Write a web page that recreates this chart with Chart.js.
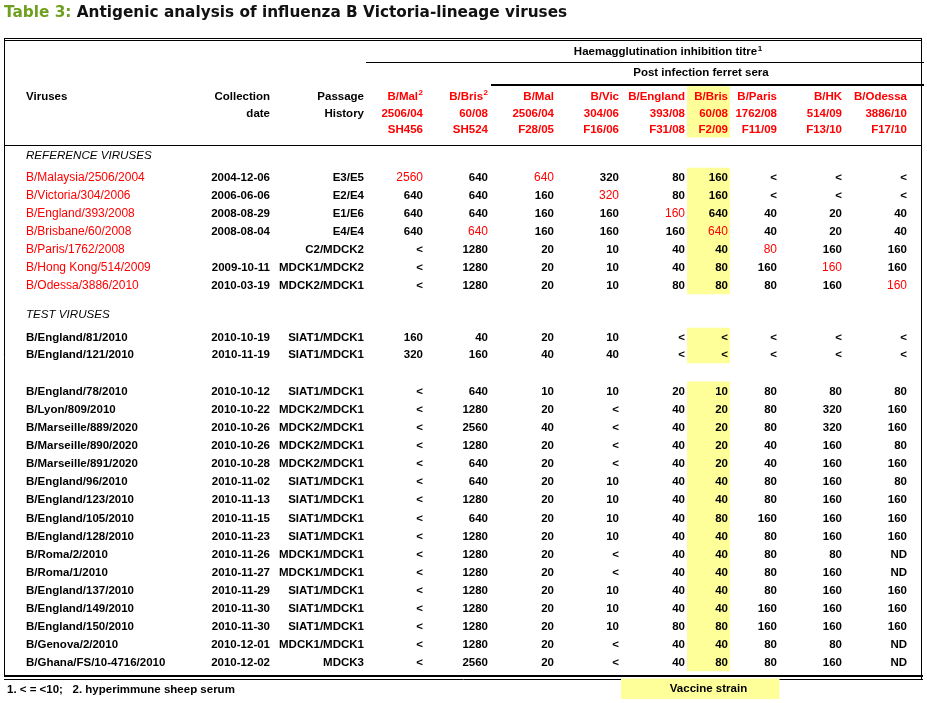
<!DOCTYPE html>
<html>
<head>
<meta charset="utf-8">
<script src="https://cdn.jsdelivr.net/npm/chart.js@4.4.1/dist/chart.umd.min.js"></script>
<style>
  html, body { margin: 0; padding: 0; background: #fff; }
  #wrap { width: 927px; height: 703px; position: relative; }
</style>
</head>
<body>
<div id="wrap"><canvas id="table"></canvas></div>
<script>
// ---- data ----
const referenceViruses = ['B/Malaysia/2506/2004', 'B/Victoria/304/2006', 'B/England/393/2008',
  'B/Brisbane/60/2008', 'B/Paris/1762/2008', 'B/Hong Kong/514/2009', 'B/Odessa/3886/2010'];
const testVirusesEarly = ['B/England/81/2010', 'B/England/121/2010'];
const testVirusesLate = ['B/England/78/2010', 'B/Lyon/809/2010', 'B/Marseille/889/2020', 'B/Marseille/890/2020',
  'B/Marseille/891/2020', 'B/England/96/2010', 'B/England/123/2010', 'B/England/105/2010',
  'B/England/128/2010', 'B/Roma/2/2010', 'B/Roma/1/2010', 'B/England/137/2010',
  'B/England/149/2010', 'B/England/150/2010', 'B/Genova/2/2010', 'B/Ghana/FS/10-4716/2010'];

const collectionDates = ['2004-12-06', '2006-06-06', '2008-08-29', '2008-08-04', '', '2009-10-11', '2010-03-19',
  '2010-10-19', '2010-11-19',
  '2010-10-12', '2010-10-22', '2010-10-26', '2010-10-26', '2010-10-28', '2010-11-02', '2010-11-13', '2010-11-15',
  '2010-11-23', '2010-11-26', '2010-11-27', '2010-11-29', '2010-11-30', '2010-11-30', '2010-12-01', '2010-12-02'];
const passageHistory = ['E3/E5', 'E2/E4', 'E1/E6', 'E4/E4', 'C2/MDCK2', 'MDCK1/MDCK2', 'MDCK2/MDCK1',
  'SIAT1/MDCK1', 'SIAT1/MDCK1',
  'SIAT1/MDCK1', 'MDCK2/MDCK1', 'MDCK2/MDCK1', 'MDCK2/MDCK1', 'MDCK2/MDCK1', 'SIAT1/MDCK1', 'SIAT1/MDCK1',
  'SIAT1/MDCK1', 'SIAT1/MDCK1', 'MDCK1/MDCK1', 'MDCK1/MDCK1', 'SIAT1/MDCK1', 'SIAT1/MDCK1', 'SIAT1/MDCK1',
  'MDCK1/MDCK1', 'MDCK3'];

// antisera (columns)
const serumStrain = ['B/Mal', 'B/Bris', 'B/Mal', 'B/Vic', 'B/England', 'B/Bris', 'B/Paris', 'B/HK', 'B/Odessa'];
const serumIsolate = ['2506/04', '60/08', '2506/04', '304/06', '393/08', '60/08', '1762/08', '514/09', '3886/10'];
const serumCode = ['SH456', 'SH524', 'F28/05', 'F16/06', 'F31/08', 'F2/09', 'F11/09', 'F13/10', 'F17/10'];
const serumNote = ['2', '2', '', '', '', '', '', '', ''];

// HI titres, one list per antiserum, rows in table order
const titreMal2 = [2560, 640, 640, 640, '<', '<', '<', 160, 320,
  '<', '<', '<', '<', '<', '<', '<', '<', '<', '<', '<', '<', '<', '<', '<', '<'];
const titreBris2 = [640, 640, 640, 640, 1280, 1280, 1280, 40, 160,
  640, 1280, 2560, 1280, 640, 640, 1280, 640, 1280, 1280, 1280, 1280, 1280, 1280, 1280, 2560];
const titreMal = [640, 160, 160, 160, 20, 20, 20, 20, 40,
  10, 20, 40, 20, 20, 20, 20, 20, 20, 20, 20, 20, 20, 20, 20, 20];
const titreVic = [320, 320, 160, 160, 10, 10, 10, 10, 40,
  10, '<', '<', '<', '<', 10, 10, 10, 10, '<', '<', 10, 10, 10, '<', '<'];
const titreEngland = [80, 80, 160, 160, 40, 40, 80, '<', '<',
  20, 40, 40, 40, 40, 40, 40, 40, 40, 40, 40, 40, 40, 80, 40, 40];
const titreBris = [160, 160, 640, 640, 40, 80, 80, '<', '<',
  10, 20, 20, 20, 20, 40, 40, 80, 40, 40, 40, 40, 40, 80, 40, 80];
const titreParis = ['<', '<', 40, 40, 80, 160, 80, '<', '<',
  80, 80, 80, 40, 40, 80, 80, 160, 80, 80, 80, 80, 160, 160, 80, 80];
const titreHK = ['<', '<', 20, 20, 160, 160, 160, '<', '<',
  80, 320, 320, 160, 160, 160, 160, 160, 160, 80, 160, 160, 160, 160, 80, 160];
const titreOdessa = ['<', '<', 40, 40, 160, 160, 160, '<', '<',
  80, 160, 160, 80, 160, 80, 160, 160, 160, 'ND', 'ND', 160, 160, 160, 'ND', 'ND'];
const titres = [titreMal2, titreBris2, titreMal, titreVic, titreEngland, titreBris, titreParis, titreHK, titreOdessa];

// homologous titre for each reference virus (shown in red)
const homologous = [[0, 2], [3], [4], [1, 5], [6], [7], [8]];

// ---- layout ----
const RED = '#ff0000';
const YELLOW = '#ffff99';
const SANS = '"Liberation Sans", Arial, sans-serif';
const BOLD = 'bold 11.5px ' + SANS;
const REG = '12px ' + SANS;

const nameLeft = 26;
const dateRight = 270;
const passageRight = 364;
const serumRight = [423, 488, 554, 619, 685, 728, 777, 842, 907];
const band = { left: 687, right: 730 };

// row slots (1 slot = one body row)
const virusNames = referenceViruses.concat(testVirusesEarly, testVirusesLate);
const slots = referenceViruses.map((_, i) => i)
  .concat(testVirusesEarly.map((_, i) => 8.84 + 0.97 * i))
  .concat(testVirusesLate.map((_, i) => 11.82 + i));
const headSlots = [-4.49, -3.55, -2.67];
const Y_MIN = -9.762, Y_MAX = 29.077;

function textDs(label, role, x, cells, serum) {
  return {
    type: 'scatter', label, role, serum, cells,
    data: slots.map(s => ({ x, y: s })),
    pointRadius: 0, pointHoverRadius: 0
  };
}

const bandX = (band.left + band.right) / 2;
const datasets = [
  {
    type: 'bar', label: 'Vaccine strain',
    data: [
      { x: bandX, y: [headSlots[0] - 0.5, headSlots[2] + 0.5] },
      { x: bandX, y: [slots[0] - 0.5, slots[6] + 0.5] },
      { x: bandX, y: [slots[7] - 0.5, slots[8] + 0.5] },
      { x: bandX, y: [slots[9] - 0.5, slots[24] + 0.5] }
    ],
    backgroundColor: YELLOW, barThickness: band.right - band.left, borderWidth: 0, inflateAmount: 0
  },
  textDs('Viruses', 'name', nameLeft, virusNames),
  textDs('Collection date', 'date', dateRight, collectionDates),
  textDs('Passage History', 'passage', passageRight, passageHistory)
];
titres.forEach((t, j) => datasets.push(textDs(serumStrain[j] + ' ' + serumCode[j], 'titre', serumRight[j], t, j)));

function drawText(ctx, str, x, y, font, color, align) {
  ctx.font = font;
  ctx.fillStyle = color;
  ctx.textAlign = align;
  ctx.textBaseline = 'alphabetic';
  ctx.fillText(str, x, y + 4.2);
}

// right/centre aligned text followed by a superscript
function drawWithSup(ctx, str, sup, x, y, color, align) {
  ctx.font = 'bold 8px ' + SANS;
  const sw = sup ? ctx.measureText(sup).width + 0.5 : 0;
  ctx.font = BOLD;
  const tw = ctx.measureText(str).width;
  const left = align === 'center' ? x - (tw + sw) / 2 : x - tw - sw;
  drawText(ctx, str, left, y, BOLD, color, 'left');
  if (sup) {
    ctx.font = 'bold 8px ' + SANS;
    ctx.fillText(sup, left + tw + 0.5, y - 0.5);
  }
}

const tablePlugin = {
  id: 'tableText',
  afterDatasetsDraw(chart) {
    const ctx = chart.ctx;
    const X = v => chart.scales.x.getPixelForValue(v);
    const Y = v => chart.scales.y.getPixelForValue(v);
    ctx.save();

    // title
    ctx.textBaseline = 'alphabetic';
    ctx.textAlign = 'left';
    ctx.font = 'bold 15.3px "DejaVu Sans", Verdana, sans-serif';
    ctx.fillStyle = '#6f9f1f';
    ctx.fillText('Table 3:', X(4), 17);
    const tw = ctx.measureText('Table 3: ').width;
    ctx.fillStyle = '#111';
    ctx.fillText('Antigenic analysis of influenza B Victoria-lineage viruses', X(4) + tw, 17);

    // rules
    ctx.strokeStyle = '#000';
    const hline = (slot, x0, x1, w) => {
      const y = Math.round(Y(slot)) + (w % 2 ? 0.5 : 0);
      ctx.lineWidth = w;
      ctx.beginPath(); ctx.moveTo(X(x0), y); ctx.lineTo(X(x1), y); ctx.stroke();
    };
    const vline = (x, s0, s1, w) => {
      ctx.lineWidth = w;
      ctx.beginPath(); ctx.moveTo(Math.round(X(x)) + (w % 2 ? 0.5 : 0), Y(s0));
      ctx.lineTo(Math.round(X(x)) + (w % 2 ? 0.5 : 0), Y(s1)); ctx.stroke();
    };
    hline(-7.66, 4, 922, 1);
    hline(-7.53, 4, 922, 1);
    hline(-6.34, 366, 924, 1);
    hline(-5.09, 491, 924, 2);
    hline(-1.75, 4, 922, 1);
    hline(27.57, 4, 923, 2);
    hline(27.77, 4, 923, 1);
    vline(4, -7.66, 27.6, 1);
    vline(921, -7.66, 27.8, 1);

    // header
    drawWithSup(ctx, 'Haemagglutination inhibition titre', '1', X(668), Y(-6.94), '#000', 'center');
    drawText(ctx, 'Post infection ferret sera', X(701), Y(-5.80), BOLD, '#000', 'center');
    drawText(ctx, 'Viruses', X(nameLeft), Y(headSlots[0]), BOLD, '#000', 'left');
    drawText(ctx, 'Collection', X(dateRight), Y(headSlots[0]), BOLD, '#000', 'right');
    drawText(ctx, 'date', X(dateRight), Y(headSlots[1]), BOLD, '#000', 'right');
    drawText(ctx, 'Passage', X(passageRight), Y(headSlots[0]), BOLD, '#000', 'right');
    drawText(ctx, 'History', X(passageRight), Y(headSlots[1]), BOLD, '#000', 'right');
    serumStrain.forEach((s, j) => {
      drawWithSup(ctx, s, serumNote[j], X(serumRight[j]), Y(headSlots[0]), RED, 'right');
      drawText(ctx, serumIsolate[j], X(serumRight[j]), Y(headSlots[1]), BOLD, RED, 'right');
      drawText(ctx, serumCode[j], X(serumRight[j]), Y(headSlots[2]), BOLD, RED, 'right');
    });

    // section labels
    drawText(ctx, 'REFERENCE VIRUSES', X(nameLeft), Y(-1.23), 'italic 11.6px ' + SANS, '#000', 'left');
    drawText(ctx, 'TEST VIRUSES', X(nameLeft), Y(7.55), 'italic 11.6px ' + SANS, '#000', 'left');

    // cells
    chart.data.datasets.forEach((ds, di) => {
      if (!ds.cells) return;
      const meta = chart.getDatasetMeta(di);
      meta.data.forEach((pt, i) => {
        const val = ds.cells[i];
        if (val === '' || val === undefined) return;
        let font = BOLD, color = '#000', align = 'right';
        if (ds.role === 'name') {
          align = 'left';
          if (i < referenceViruses.length) { font = REG; color = RED; }
        } else if (ds.role === 'titre' && i < referenceViruses.length && homologous[i].includes(ds.serum)) {
          font = REG; color = RED;
        }
        drawText(ctx, String(val), pt.x, pt.y, font, color, align);
      });
    });

    // footnotes and key
    drawText(ctx, '1. < = <10;   2. hyperimmune sheep serum', X(7), Y(28.28), BOLD, '#000', 'left');
    ctx.fillStyle = YELLOW;
    const ky0 = Y(27.72), ky1 = Y(28.86);
    ctx.fillRect(X(621), ky0, X(779.5) - X(621), ky1 - ky0);
    drawText(ctx, 'Vaccine strain', X(bandX), Y(28.22), BOLD, '#000', 'center');
    ctx.restore();
  }
};

new Chart(document.getElementById('table'), {
  type: 'scatter',
  data: { datasets },
  options: {
    responsive: true,
    maintainAspectRatio: false,
    animation: false,
    events: [],
    layout: { padding: 0 },
    scales: {
      x: { type: 'linear', min: 0, max: 927, offset: false, display: false },
      y: { type: 'linear', min: Y_MIN, max: Y_MAX, reverse: true, offset: false, display: false }
    },
    plugins: { legend: { display: false }, tooltip: { enabled: false } }
  },
  plugins: [tablePlugin]
});
</script>
</body>
</html>
